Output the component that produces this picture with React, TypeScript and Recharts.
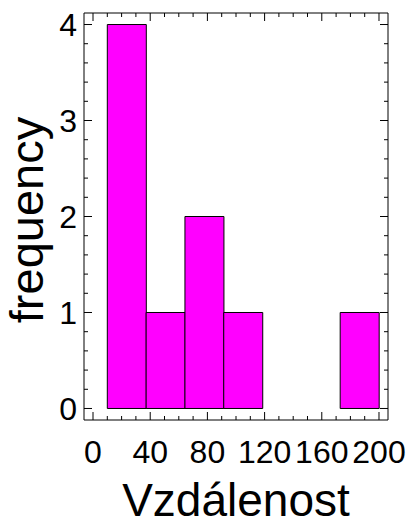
import React from 'react';
import { ComposedChart, Bar, Line, XAxis, YAxis } from 'recharts';

const binEdges = [10, 37.14, 64.29, 91.43, 118.57, 145.71, 172.86, 200];
const binCounts = [4, 1, 2, 1, 0, 0, 1];
const xTicks = [0, 10, 20, 30, 40, 50, 60, 70, 80, 90, 100, 110, 120, 130, 140, 150, 160, 170, 180, 190, 200];
const xMajorTicks = [0, 40, 80, 120, 160, 200];
const yTicks = [0, 0.2, 0.4, 0.6, 0.8, 1, 1.2, 1.4, 1.6, 1.8, 2, 2.2, 2.4, 2.6, 2.8, 3, 3.2, 3.4, 3.6, 3.8, 4];
const yMajorTicks = [0, 1, 2, 3, 4];
const xDomain = [-6.3, 206.3];
const yDomain = [-0.12, 4.12];
const xTitle = 'Vzdálenost';
const yTitle = 'frequency';

const data = binCounts.map((count, i) => ({
  mid: (binEdges[i] + binEdges[i + 1]) / 2,
  count,
}));

const FONT = "'Liberation Sans', Arial, Helvetica, sans-serif";
const MAJOR = 8;
const MINOR = 4;
const XM = 20;
const YM = 7;

const isMajorX = (v: number) => xMajorTicks.some((m) => Math.abs(m - v) < 1e-6);
const isMajorY = (v: number) => yMajorTicks.some((m) => Math.abs(m - v) < 1e-6);

const BottomTick = (props: any) => {
  const { x, y, payload } = props;
  const v = payload.value;
  const major = isMajorX(v);
  const ay = y - XM;
  return (
    <g>
      <line x1={x} x2={x} y1={ay} y2={ay - (major ? MAJOR : MINOR)} stroke="#000" strokeWidth={1} />
      {major && (
        <text x={x} y={y} dy="0.71em" textAnchor="middle" fontSize={32} fontFamily={FONT} fill="#000">
          {v}
        </text>
      )}
    </g>
  );
};

const TopTick = (props: any) => {
  const { x, y, payload } = props;
  const major = isMajorX(payload.value);
  return <line x1={x} x2={x} y1={y} y2={y + (major ? MAJOR : MINOR)} stroke="#000" strokeWidth={1} />;
};

const LeftTick = (props: any) => {
  const { x, y, payload } = props;
  const v = payload.value;
  const major = isMajorY(v);
  const ax = x + YM;
  return (
    <g>
      <line x1={ax} x2={ax + (major ? MAJOR : MINOR)} y1={y} y2={y} stroke="#000" strokeWidth={1} />
      {major && (
        <text x={x} y={y} dy="0.355em" textAnchor="end" fontSize={32} fontFamily={FONT} fill="#000">
          {Math.round(v)}
        </text>
      )}
    </g>
  );
};

const RightTick = (props: any) => {
  const { x, y, payload } = props;
  const major = isMajorY(payload.value);
  return <line x1={x} x2={x - (major ? MAJOR : MINOR)} y1={y} y2={y} stroke="#000" strokeWidth={1} />;
};

const YTitle = (props: any) => {
  const vb = props.viewBox || { x: 0, y: 13, width: 84, height: 407 };
  const cx = vb.x + 43;
  const cy = vb.y + vb.height / 2 + 3.5;
  return (
    <text
      x={cx}
      y={cy}
      transform={`rotate(-90, ${cx}, ${cy})`}
      textAnchor="middle"
      fontSize={47}
      fontFamily={FONT}
      fill="#000"
    >
      {yTitle}
    </text>
  );
};

export default function App() {
  return (
    <div style={{ width: 410, height: 526 }}>
      <style>{'body{margin:0;overflow:hidden;}'}</style>
      <ComposedChart
        width={410}
        height={526}
        data={data}
        margin={{ top: 12, right: 21, bottom: 0, left: 0 }}
        barCategoryGap={0}
        barGap={0}
      >
        <XAxis
          xAxisId="b"
          dataKey="mid"
          type="number"
          orientation="bottom"
          domain={xDomain}
          allowDataOverflow
          ticks={xTicks}
          interval={0}
          height={106}
          tickSize={0}
          tickMargin={XM}
          axisLine={{ stroke: '#000', strokeWidth: 1 }}
          tickLine={false}
          tick={(p: any) => <BottomTick {...p} />}
          label={{
            value: xTitle,
            position: 'insideBottom',
            offset: 10,
            style: { fontSize: 46, fontFamily: FONT, fill: '#000' },
          }}
        />
        <XAxis
          xAxisId="t"
          dataKey="mid"
          type="number"
          orientation="top"
          domain={xDomain}
          allowDataOverflow
          ticks={xTicks}
          interval={0}
          height={1}
          tickSize={0}
          tickMargin={0}
          axisLine={{ stroke: '#000', strokeWidth: 1 }}
          tickLine={false}
          tick={(p: any) => <TopTick {...p} />}
        />
        <YAxis
          yAxisId="l"
          type="number"
          orientation="left"
          domain={yDomain}
          allowDataOverflow
          ticks={yTicks}
          interval={0}
          width={84}
          tickSize={0}
          tickMargin={YM}
          axisLine={{ stroke: '#000', strokeWidth: 1 }}
          tickLine={false}
          tick={(p: any) => <LeftTick {...p} />}
          label={{ value: yTitle, content: (p: any) => <YTitle {...p} /> }}
        />
        <YAxis
          yAxisId="r"
          type="number"
          orientation="right"
          domain={yDomain}
          allowDataOverflow
          ticks={yTicks}
          interval={0}
          width={1}
          tickSize={0}
          tickMargin={0}
          axisLine={{ stroke: '#000', strokeWidth: 1 }}
          tickLine={false}
          tick={(p: any) => <RightTick {...p} />}
        />
        <Bar
          dataKey="count"
          xAxisId="b"
          yAxisId="l"
          fill="#FF00FF"
          stroke="#000"
          strokeWidth={1}
          isAnimationActive={false}
        />
        <Line
          dataKey="count"
          xAxisId="t"
          yAxisId="r"
          stroke="none"
          strokeOpacity={0}
          dot={false}
          activeDot={false}
          legendType="none"
          isAnimationActive={false}
        />
      </ComposedChart>
    </div>
  );
}
